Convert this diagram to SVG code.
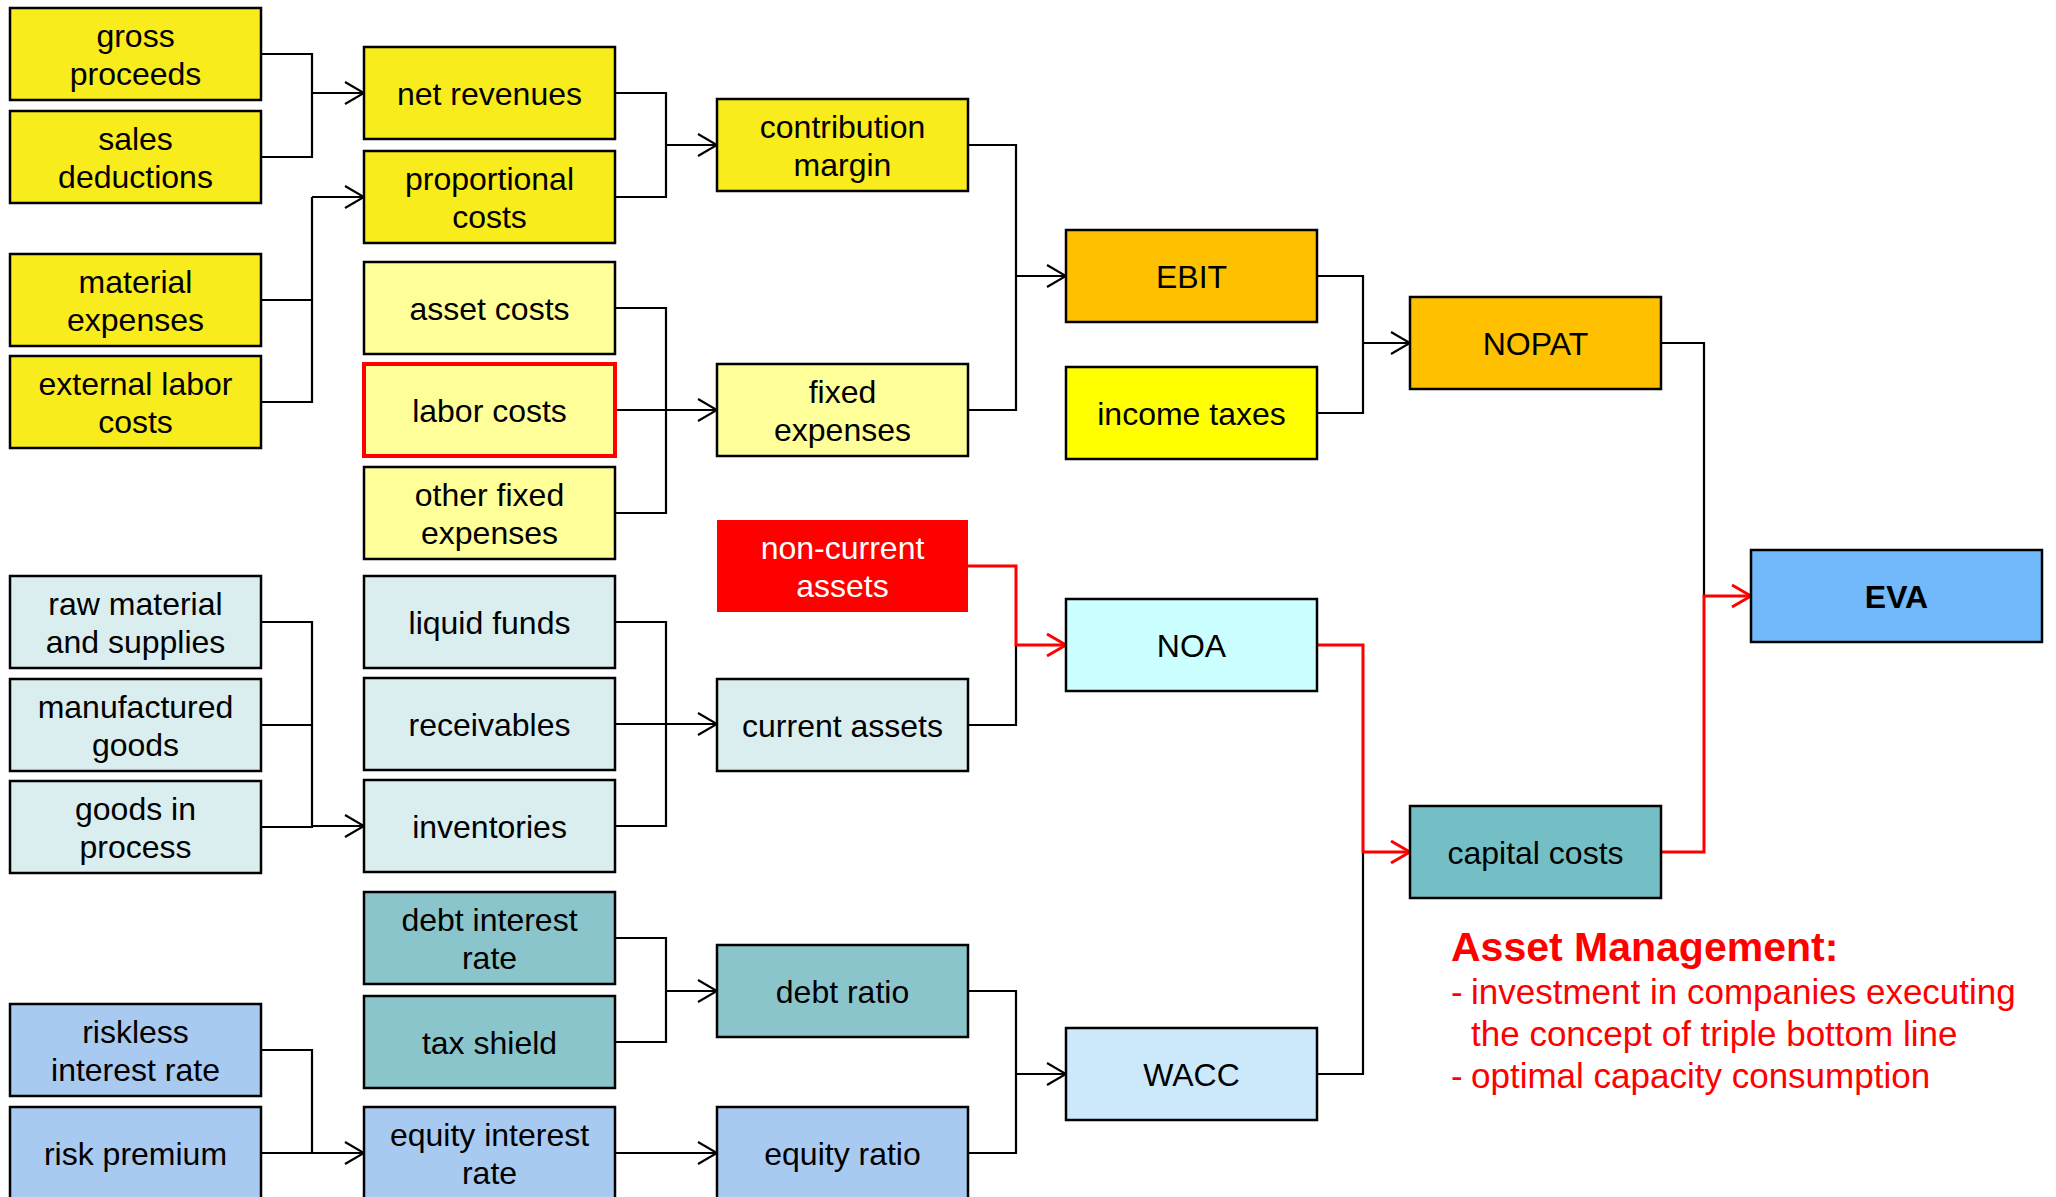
<svg xmlns="http://www.w3.org/2000/svg" width="2056" height="1197" viewBox="0 0 2056 1197">
  <defs>
    <style>
      .box { stroke: #000; stroke-width: 2.5; }
      .lbl { font-family: "Liberation Sans", Arial, sans-serif; font-size: 32px; fill: #000; text-anchor: middle; }
      .wire { fill: none; stroke: #000; stroke-width: 2.2; }
      .wire-red { fill: none; stroke: #ff0000; stroke-width: 3; }
      .arrow { marker-end: url(#arrowBlack); }
      .arrow-red { marker-end: url(#arrowRed); }
      .note { font-family: "Liberation Sans", Arial, sans-serif; fill: #ff0000; }
      .y1 { fill: #f9ec1c; }
      .y2 { fill: #ffff99; }
      .y3 { fill: #ffff00; }
      .or { fill: #ffc000; }
      .gr { fill: #daedef; }
      .cy { fill: #ccffff; }
      .tl { fill: #8ac5cc; }
      .tl2 { fill: #74bfc5; }
      .bl { fill: #a8caf0; }
      .wb { fill: #cce9fc; }
      .ev { fill: #71b9fb; }
    </style>
    <marker id="arrowBlack" markerUnits="userSpaceOnUse" markerWidth="22" markerHeight="26" viewBox="0 0 22 26" refX="20" refY="13" orient="auto">
      <path d="M1,2 L20,13 L1,24" fill="none" stroke="#000" stroke-width="2.2"/>
    </marker>
    <marker id="arrowRed" markerUnits="userSpaceOnUse" markerWidth="22" markerHeight="26" viewBox="0 0 22 26" refX="20" refY="13" orient="auto">
      <path d="M1,2 L20,13 L1,24" fill="none" stroke="#ff0000" stroke-width="3"/>
    </marker>
  </defs>

  <rect width="2056" height="1197" fill="#ffffff"/>

  <!-- connectors -->
  <g id="connectors">
    <path class="wire" d="M261,54 H312 V157 H261"/>
    <path class="wire arrow" d="M312,93 H364"/>

    <path class="wire" d="M261,300 H312 V402 H261"/>
    <path class="wire" d="M312,197 V300"/>
    <path class="wire arrow" d="M312,197 H364"/>

    <path class="wire" d="M615,93 H666 V197 H615"/>
    <path class="wire arrow" d="M666,145 H717"/>

    <path class="wire" d="M615,308 H666 V513 H615"/>
    <path class="wire arrow" d="M615,410 H717"/>

    <path class="wire" d="M968,145 H1016 V410 H968"/>
    <path class="wire arrow" d="M1016,276 H1066"/>

    <path class="wire" d="M1316,276 H1363 V413 H1316"/>
    <path class="wire arrow" d="M1363,343 H1410"/>

    <path class="wire" d="M261,622 H312 V827 H261"/>
    <path class="wire" d="M261,725 H312"/>
    <path class="wire arrow" d="M312,826 H364"/>

    <path class="wire" d="M615,622 H666 V826 H615"/>
    <path class="wire arrow" d="M615,724 H717"/>

    <path class="wire" d="M615,938 H666 V1042 H615"/>
    <path class="wire arrow" d="M666,991 H717"/>

    <path class="wire" d="M261,1050 H312 V1153"/>
    <path class="wire arrow" d="M261,1153 H364"/>
    <path class="wire arrow" d="M615,1153 H717"/>

    <path class="wire" d="M968,991 H1016 V1153 H968"/>
    <path class="wire arrow" d="M1016,1074 H1066"/>

    <path class="wire" d="M968,725 H1016 V645"/>
    <path class="wire" d="M1317,1074 H1363 V852"/>
    <path class="wire" d="M1660,343 H1704 V596"/>

    <path class="wire-red arrow-red" d="M968,566 H1016 V645 H1066"/>
    <path class="wire-red arrow-red" d="M1317,645 H1363 V852 H1410"/>
    <path class="wire-red arrow-red" d="M1660,852 H1704 V596 H1751"/>
  </g>

  <!-- column 1 -->
  <g id="gross-proceeds"><rect class="box y1" x="10" y="8" width="251" height="92"/><text class="lbl" x="135.5" y="47">gross</text><text class="lbl" x="135.5" y="85">proceeds</text></g>
  <g id="sales-deductions"><rect class="box y1" x="10" y="111" width="251" height="92"/><text class="lbl" x="135.5" y="150">sales</text><text class="lbl" x="135.5" y="188">deductions</text></g>
  <g id="material-expenses"><rect class="box y1" x="10" y="254" width="251" height="92"/><text class="lbl" x="135.5" y="293">material</text><text class="lbl" x="135.5" y="331">expenses</text></g>
  <g id="external-labor-costs"><rect class="box y1" x="10" y="356" width="251" height="92"/><text class="lbl" x="135.5" y="395">external labor</text><text class="lbl" x="135.5" y="433">costs</text></g>
  <g id="raw-material"><rect class="box gr" x="10" y="576" width="251" height="92"/><text class="lbl" x="135.5" y="615">raw material</text><text class="lbl" x="135.5" y="653">and supplies</text></g>
  <g id="manufactured-goods"><rect class="box gr" x="10" y="679" width="251" height="92"/><text class="lbl" x="135.5" y="718">manufactured</text><text class="lbl" x="135.5" y="756">goods</text></g>
  <g id="goods-in-process"><rect class="box gr" x="10" y="781" width="251" height="92"/><text class="lbl" x="135.5" y="820">goods in</text><text class="lbl" x="135.5" y="858">process</text></g>
  <g id="riskless-interest-rate"><rect class="box bl" x="10" y="1004" width="251" height="92"/><text class="lbl" x="135.5" y="1043">riskless</text><text class="lbl" x="135.5" y="1081">interest rate</text></g>
  <g id="risk-premium"><rect class="box bl" x="10" y="1107" width="251" height="92"/><text class="lbl" x="135.5" y="1165">risk premium</text></g>

  <!-- column 2 -->
  <g id="net-revenues"><rect class="box y1" x="364" y="47" width="251" height="92"/><text class="lbl" x="489.5" y="105">net revenues</text></g>
  <g id="proportional-costs"><rect class="box y1" x="364" y="151" width="251" height="92"/><text class="lbl" x="489.5" y="190">proportional</text><text class="lbl" x="489.5" y="228">costs</text></g>
  <g id="asset-costs"><rect class="box y2" x="364" y="262" width="251" height="92"/><text class="lbl" x="489.5" y="320">asset costs</text></g>
  <g id="labor-costs"><rect class="y2" x="364" y="364" width="251" height="92" stroke="#ff0000" stroke-width="4"/><text class="lbl" x="489.5" y="422">labor costs</text></g>
  <g id="other-fixed-expenses"><rect class="box y2" x="364" y="467" width="251" height="92"/><text class="lbl" x="489.5" y="506">other fixed</text><text class="lbl" x="489.5" y="544">expenses</text></g>
  <g id="liquid-funds"><rect class="box gr" x="364" y="576" width="251" height="92"/><text class="lbl" x="489.5" y="634">liquid funds</text></g>
  <g id="receivables"><rect class="box gr" x="364" y="678" width="251" height="92"/><text class="lbl" x="489.5" y="736">receivables</text></g>
  <g id="inventories"><rect class="box gr" x="364" y="780" width="251" height="92"/><text class="lbl" x="489.5" y="838">inventories</text></g>
  <g id="debt-interest-rate"><rect class="box tl" x="364" y="892" width="251" height="92"/><text class="lbl" x="489.5" y="931">debt interest</text><text class="lbl" x="489.5" y="969">rate</text></g>
  <g id="tax-shield"><rect class="box tl" x="364" y="996" width="251" height="92"/><text class="lbl" x="489.5" y="1054">tax shield</text></g>
  <g id="equity-interest-rate"><rect class="box bl" x="364" y="1107" width="251" height="92"/><text class="lbl" x="489.5" y="1146">equity interest</text><text class="lbl" x="489.5" y="1184">rate</text></g>

  <!-- column 3 -->
  <g id="contribution-margin"><rect class="box y1" x="717" y="99" width="251" height="92"/><text class="lbl" x="842.5" y="138">contribution</text><text class="lbl" x="842.5" y="176">margin</text></g>
  <g id="fixed-expenses"><rect class="box y2" x="717" y="364" width="251" height="92"/><text class="lbl" x="842.5" y="403">fixed</text><text class="lbl" x="842.5" y="441">expenses</text></g>
  <g id="non-current-assets"><rect x="717" y="520" width="251" height="92" fill="#ff0000"/><text class="lbl" x="842.5" y="559" style="fill:#ffffff">non-current</text><text class="lbl" x="842.5" y="597" style="fill:#ffffff">assets</text></g>
  <g id="current-assets"><rect class="box gr" x="717" y="679" width="251" height="92"/><text class="lbl" x="842.5" y="737">current assets</text></g>
  <g id="debt-ratio"><rect class="box tl" x="717" y="945" width="251" height="92"/><text class="lbl" x="842.5" y="1003">debt ratio</text></g>
  <g id="equity-ratio"><rect class="box bl" x="717" y="1107" width="251" height="92"/><text class="lbl" x="842.5" y="1165">equity ratio</text></g>

  <!-- column 4 -->
  <g id="ebit"><rect class="box or" x="1066" y="230" width="251" height="92"/><text class="lbl" x="1191.5" y="288">EBIT</text></g>
  <g id="income-taxes"><rect class="box y3" x="1066" y="367" width="251" height="92"/><text class="lbl" x="1191.5" y="425">income taxes</text></g>
  <g id="noa"><rect class="box cy" x="1066" y="599" width="251" height="92"/><text class="lbl" x="1191.5" y="657">NOA</text></g>
  <g id="wacc"><rect class="box wb" x="1066" y="1028" width="251" height="92"/><text class="lbl" x="1191.5" y="1086">WACC</text></g>

  <!-- column 5 -->
  <g id="nopat"><rect class="box or" x="1410" y="297" width="251" height="92"/><text class="lbl" x="1535.5" y="355">NOPAT</text></g>
  <g id="capital-costs"><rect class="box tl2" x="1410" y="806" width="251" height="92"/><text class="lbl" x="1535.5" y="864">capital costs</text></g>

  <!-- result -->
  <g id="eva"><rect class="box ev" x="1751" y="550" width="291" height="92"/><text class="lbl" x="1896.5" y="608" font-weight="bold">EVA</text></g>

  <!-- annotation -->
  <g id="asset-management-note">
    <text class="note" x="1451" y="961" font-size="41" font-weight="bold">Asset Management:</text>
    <text class="note" x="1451" y="1004" font-size="35">-</text>
    <text class="note" x="1471" y="1004" font-size="35">investment in companies executing</text>
    <text class="note" x="1471" y="1046" font-size="35">the concept of triple bottom line</text>
    <text class="note" x="1451" y="1088" font-size="35">-</text>
    <text class="note" x="1471" y="1088" font-size="35">optimal capacity consumption</text>
  </g>
</svg>
